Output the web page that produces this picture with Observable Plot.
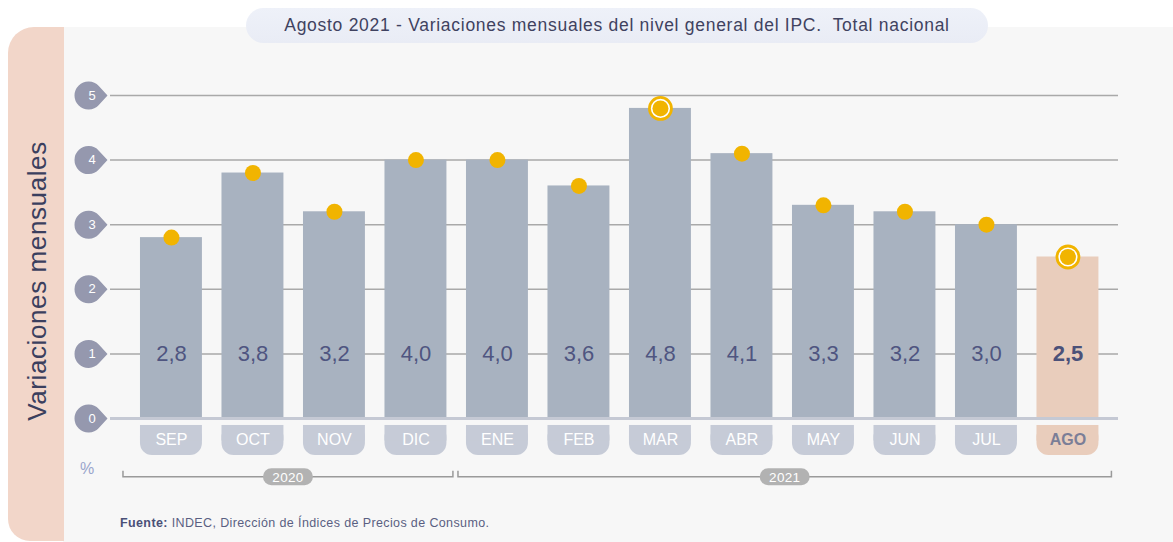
<!DOCTYPE html>
<html><head><meta charset="utf-8">
<script src="https://cdn.jsdelivr.net/npm/d3@7"></script>
<script src="https://cdn.jsdelivr.net/npm/@observablehq/plot@0.6"></script>
<style>
body{margin:0;background:#fff;font-family:"Liberation Sans",Arial,sans-serif;}
#wrap{position:relative;width:1173px;height:542px;overflow:hidden;background:#fff;}
#gray{position:absolute;left:63px;top:27px;right:0;bottom:0;background:#f7f7f7;}
#pink{position:absolute;left:8px;top:27px;width:56px;height:514px;background:#f2d6c9;border-radius:26px 0 0 22px;}
#ytitle{position:absolute;left:37px;top:281px;transform:translate(-50%,-50%) rotate(-90deg);white-space:nowrap;font-size:26px;letter-spacing:0.6px;color:#3b3f5e;}
#title{position:absolute;left:246px;top:8px;width:742px;height:35px;border-radius:18px;background:linear-gradient(#eef1f9,#e9ecf5);text-align:center;line-height:35px;font-size:17.5px;letter-spacing:0.72px;color:#3f4260;}
#pct{position:absolute;left:80px;top:460px;font-size:16px;color:#9aa5cc;}
#foot{position:absolute;left:120px;top:516px;font-size:12.5px;letter-spacing:0.38px;color:#5a5f82;}
#foot b{color:#4a5078;}
#chart{position:absolute;left:0;top:0;}
</style></head>
<body>
<div id="wrap">
  <div id="gray"></div>
  <div id="pink"></div>
  <div id="ytitle">Variaciones mensuales</div>
  <div id="title">Agosto 2021 - Variaciones mensuales del nivel general del IPC.&nbsp; Total nacional</div>
  <div id="pct">%</div>
  <div id="foot"><b>Fuente:</b> INDEC, Dirección de Índices de Precios de Consumo.</div>
  <div id="chart"></div>
</div>
<script>
const months = ["SEP","OCT","NOV","DIC","ENE","FEB","MAR","ABR","MAY","JUN","JUL","AGO"];
const values = [2.8, 3.8, 3.2, 4.0, 4.0, 3.6, 4.8, 4.1, 3.3, 3.2, 3.0, 2.5];
const monthYears = ["2020","2020","2020","2020","2021","2021","2021","2021","2021","2021","2021","2021"];
const ringed = ["MAR","AGO"];
const current = "AGO";
const yTicks = [0, 1, 2, 3, 4, 5];

const data = months.map((m, i) => ({month: m, value: values[i], year: monthYears[i],
  label: values[i].toFixed(1).replace(".", ","), current: m === current, ringed: ringed.includes(m)}));
const normal = data.filter(d => !d.current);
const cur = data.filter(d => d.current);

const barColor = d => d.current ? "#e9cdbc" : "#a8b2c0";
const pillColor = d => d.current ? "#e9cdbc" : "#c6cbd7";

// teardrop symbol pointing right
const drop = {
  draw(ctx) {
    const r = 14, tip = 19;
    const th = Math.acos(r / tip);
    ctx.moveTo(tip, 0);
    ctx.lineTo(r * Math.cos(th), r * Math.sin(th));
    ctx.arc(0, 0, r, th, 2 * Math.PI - th);
    ctx.closePath();
  }
};

const brackets = (index, {x, y}) => {
  const g = d3.create("svg:g");
  const bw = x.bandwidth();
  const years = [...new Set(monthYears)];
  const yy = y(-0.91);
  years.forEach((yr, k) => {
    const ms = months.filter((m, i) => monthYears[i] === yr);
    const first = ms[0], last = ms[ms.length - 1];
    const x1 = k === 0 ? x(first) - 17 : x(first) - 8;
    const x2 = k === years.length - 1 ? x(last) + bw + 13 : x(last) + bw + 6.5;
    g.append("path").attr("d", `M${x1},${yy - 6}V${yy}H${x2}V${yy - 6}`)
      .attr("fill", "none").attr("stroke", "#9a9a9a").attr("stroke-width", 1.5);
    const cx = (x1 + x2) / 2;
    g.append("rect").attr("x", cx - 25).attr("y", yy - 8.5).attr("width", 50).attr("height", 17)
      .attr("rx", 8.5).attr("fill", "#b2b2b2");
    g.append("text").attr("x", cx).attr("y", yy).attr("dy", "0.36em").attr("text-anchor", "middle")
      .attr("fill", "#fff").attr("font-size", 13.5).attr("letter-spacing", "0.3px").text(yr);
  });
  return g.node();
};

const chart = Plot.plot({
  width: 1173,
  height: 542,
  marginTop: 95,
  marginBottom: 124,
  marginLeft: 110,
  marginRight: 55,
  style: {background: "transparent", fontFamily: "'Liberation Sans', Arial, sans-serif", overflow: "visible"},
  x: {domain: months, range: [130.2, 1108.2], paddingInner: 0.24, paddingOuter: 0.12, round: false, axis: null},
  y: {domain: [0, 5], axis: null},
  marks: [
    Plot.ruleY(yTicks.filter(t => t > 0), {stroke: "#a9a9a9", strokeWidth: 1.5}),
    Plot.barY(data, {x: "month", y: "value", fill: barColor}),
    Plot.ruleY([0], {stroke: "#c5c9d4", strokeWidth: 3}),
    Plot.dot(yTicks, {y: d => d, frameAnchor: "left", dx: -22, symbol: drop, fill: "#9598ae", stroke: null}),
    Plot.text(yTicks, {y: d => d, text: d => String(d), frameAnchor: "left", dx: -22, fill: "#fff", fontSize: 13}),
    Plot.text(normal, {x: "month", y: 1, text: "label", fill: "#4f5580", fontSize: 22}),
    Plot.text(cur, {x: "month", y: 1, text: "label", fill: "#4b5179", fontSize: 22, fontWeight: "bold"}),
    Plot.barY(data, {x: "month", y1: -0.108, y2: -0.573, rx: 12, fill: pillColor}),
    Plot.barY(data, {x: "month", y1: -0.108, y2: -0.35, fill: pillColor}),
    Plot.text(normal, {x: "month", y: -0.33, text: "month", fontSize: 16, fill: "#fff"}),
    Plot.text(cur, {x: "month", y: -0.33, text: "month", fontSize: 16, fill: "#7b7e97", fontWeight: "bold"}),
    Plot.dot(data.filter(d => d.ringed), {x: "month", y: "value", r: 11, fill: "#fff", stroke: "#f1b400", strokeWidth: 2.8}),
    Plot.dot(data, {x: "month", y: "value", r: 8, fill: "#f1b400"}),
    brackets
  ]
});
document.getElementById("chart").appendChild(chart);
</script>
</body></html>
